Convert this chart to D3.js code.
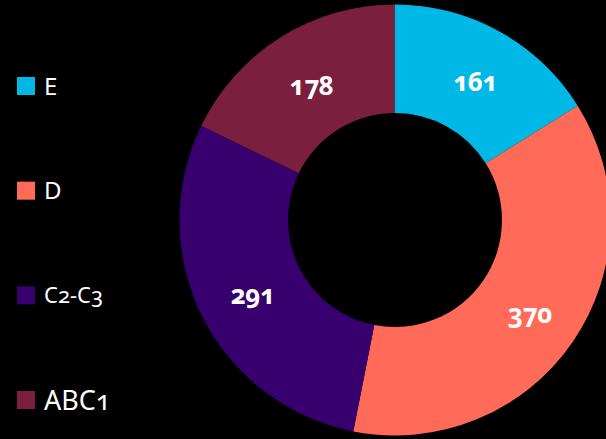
<!DOCTYPE html>
<html>
<head>
<meta charset="utf-8">
<script src="https://cdn.jsdelivr.net/npm/d3@7"></script>
<style>
  html, body { margin: 0; padding: 0; background: #000; }
  svg { display: block; font-family: "Noto Sans", "Open Sans", sans-serif; font-variant-numeric: oldstyle-nums; }
</style>
</head>
<body>
<svg id="chart" width="606" height="439"></svg>
<script>
// Segment data, drawn clockwise from 12 o'clock
const categories = ["E", "D", "C2-C3", "ABC1"];
const values = [161, 370, 291, 178];
const colors = ["#00b8e6", "#ff6b58", "#37006e", "#7a1f3d"];

// Legend order (top to bottom) and per-label type size
const legendOrder = ["E", "D", "C2-C3", "ABC1"];
const legendSizes = [24, 24, 22, 27];

const svg = d3.select("#chart");
const cx = 395, cy = 220;
const outerR = 215.5, innerR = 107;

const data = categories.map((c, i) => ({ category: c, value: values[i], color: colors[i] }));

const pie = d3.pie().value(d => d.value).sort(null);
const arc = d3.arc().innerRadius(innerR).outerRadius(outerR);

const g = svg.append("g").attr("transform", `translate(${cx},${cy})`);

const arcs = pie(data);

g.selectAll("path.slice")
  .data(arcs)
  .join("path")
  .attr("class", "slice")
  .attr("d", arc)
  .attr("fill", d => d.data.color);

g.selectAll("text.value")
  .data(arcs)
  .join("text")
  .attr("class", "value")
  .attr("transform", d => {
    const [x, y] = arc.centroid(d);
    return `translate(${x + 2},${y})`;
  })
  .attr("text-anchor", "middle")
  .attr("dy", "0.45em")
  .attr("fill", "#fff")
  .attr("font-weight", "bold")
  .attr("font-size", 26)
  .attr("letter-spacing", "-0.5px")
  .text(d => d.data.value);

// Legend
const legendY = d3.scalePoint().domain(legendOrder).range([86, 400]);
const colorOf = d3.scaleOrdinal().domain(categories).range(colors);

const lg = svg.append("g").attr("class", "legend");
const items = lg.selectAll("g.item")
  .data(legendOrder)
  .join("g")
  .attr("class", "item")
  .attr("transform", d => `translate(17,${legendY(d)})`);

items.append("rect")
  .attr("x", 0)
  .attr("y", -9)
  .attr("width", 18)
  .attr("height", 18)
  .attr("fill", d => colorOf(d));

items.append("text")
  .attr("x", 27)
  .attr("y", 0)
  .attr("dy", "0.36em")
  .attr("fill", "#fff")
  .attr("font-size", (d, i) => legendSizes[i])
  .text(d => d);
</script>
</body>
</html>
